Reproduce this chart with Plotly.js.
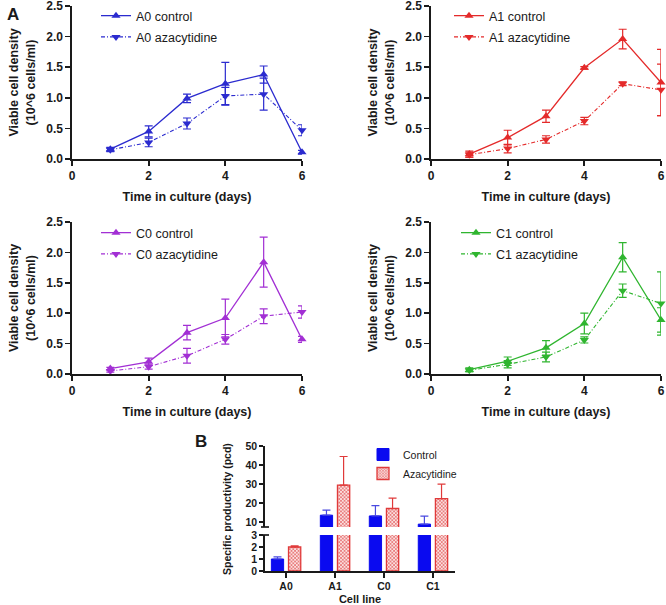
<!DOCTYPE html>
<html>
<head>
<meta charset="utf-8">
<script src="https://cdn.plot.ly/plotly-3.0.1.min.js"></script>
<style>html,body{margin:0;padding:0;background:#fff;}#chart{width:666px;height:605px;}</style>
</head>
<body>
<div id="chart"></div>
<script>
// ---- Data ----
const days = [1, 2, 3, 4, 5, 6];

const a0Control = [0.16, 0.45, 0.99, 1.23, 1.38, 0.11];
const a0ControlErr = [0.03, 0.09, 0.07, 0.35, 0.14, 0.03];
const a0Aza = [0.15, 0.27, 0.58, 1.03, 1.06, 0.47];
const a0AzaErr = [0.03, 0.07, 0.09, 0.14, 0.26, 0.09];

const a1Control = [0.08, 0.35, 0.70, 1.49, 1.96, 1.25];
const a1ControlErr = [0.05, 0.12, 0.10, 0.02, 0.16, 0.54];
const a1Aza = [0.07, 0.17, 0.32, 0.62, 1.23, 1.13];
const a1AzaErr = [0.04, 0.07, 0.06, 0.06, 0.03, 0.42];

const c0Control = [0.09, 0.20, 0.68, 0.92, 1.84, 0.57];
const c0ControlErr = [0.02, 0.06, 0.12, 0.31, 0.41, 0.05];
const c0Aza = [0.05, 0.12, 0.30, 0.57, 0.95, 1.02];
const c0AzaErr = [0.02, 0.04, 0.12, 0.08, 0.12, 0.10];

const c1Control = [0.07, 0.21, 0.43, 0.83, 1.92, 0.89];
const c1ControlErr = [0.03, 0.07, 0.12, 0.17, 0.24, 0.20];
const c1Aza = [0.06, 0.16, 0.28, 0.56, 1.37, 1.16];
const c1AzaErr = [0.02, 0.06, 0.08, 0.05, 0.11, 0.52];

const cellLines = ['A0', 'A1', 'C0', 'C1'];
const qpControl = [1.0, 13.7, 13.3, 9.0];
const qpControlErr = [0.17, 2.7, 5.4, 4.2];
const qpAza = [2.0, 29.5, 17.2, 22.4];
const qpAzaErr = [0.10, 15.0, 5.5, 7.6];
const noErr = [0, 0, 0, 0];

const panelNames = ['A0', 'A1', 'C0', 'C1'];
const panelControl = [a0Control, a1Control, c0Control, c1Control];
const panelControlErr = [a0ControlErr, a1ControlErr, c0ControlErr, c1ControlErr];
const panelAza = [a0Aza, a1Aza, c0Aza, c1Aza];
const panelAzaErr = [a0AzaErr, a1AzaErr, c0AzaErr, c1AzaErr];

// ---- Styling ----
const FONT = 'Liberation Sans, Arial, sans-serif';
const colors = ['#2b2bcf', '#e42a2a', '#a22fd4', '#2fb52f'];
const W = 666, H = 605;
const px = v => v / W;
const py = v => 1 - v / H;

// panel geometry in pixels: [xLeft, xRight, yTop, yBottom, legendLeft, legendTop]
const geo = [
  [72, 302, 6, 159, 96, 1],
  [431, 661, 6, 159, 449, 1],
  [72, 302, 222, 374, 96, 218],
  [431, 661, 222, 374, 456, 218]
];

const traces = [];
const layout = {
  width: W, height: H,
  margin: {l: 0, r: 0, t: 0, b: 0},
  paper_bgcolor: '#fff', plot_bgcolor: '#fff',
  font: {family: FONT, color: '#111'},
  showlegend: true,
  annotations: [],
  shapes: []
};

function axisBase() {
  return {
    showgrid: false, zeroline: false, showline: true,
    linecolor: '#1a1a1a', linewidth: 1.7,
    ticks: 'outside', ticklen: 5, tickwidth: 1.7, tickcolor: '#1a1a1a',
    tickfont: {family: FONT, size: 12, weight: 'bold', color: '#1a1a1a'},
    ticklabeloverflow: 'allow',
    fixedrange: true
  };
}

panelNames.forEach((name, i) => {
  const n = i + 1;
  const xa = 'x' + n, ya = 'y' + n;
  const legName = n === 1 ? 'legend' : 'legend' + n;
  const g = geo[i];
  traces.push({
    type: 'scatter', mode: 'lines+markers', name: name + ' control',
    x: days, y: panelControl[i], xaxis: xa, yaxis: ya, legend: legName,
    legendgroup: name + 'c',
    line: {color: colors[i], width: 1.3},
    marker: {symbol: 'triangle-up', size: 8, color: colors[i]},
    error_y: {type: 'data', array: panelControlErr[i], color: colors[i], thickness: 1.2, width: 4},
    cliponaxis: false
  });
  traces.push({
    type: 'scatter', mode: 'lines+markers', name: name + ' azacytidine',
    x: days, y: panelAza[i], xaxis: xa, yaxis: ya, legend: legName,
    legendgroup: name + 'a',
    line: {color: colors[i], width: 1.1, dash: '4px,2px,1px,2px'},
    marker: {symbol: 'triangle-down', size: 8, color: colors[i]},
    error_y: {type: 'data', array: panelAzaErr[i], color: colors[i], thickness: 1.2, width: 4},
    cliponaxis: false
  });
  layout['xaxis' + n] = Object.assign(axisBase(), {
    domain: [px(g[0]), px(g[1])], anchor: ya, range: [0, 6],
    tickvals: [0, 2, 4, 6],
    title: {text: 'Time in culture (days)', font: {family: FONT, size: 12.5, weight: 'bold', color: '#1a1a1a'}, standoff: 10}
  });
  layout['yaxis' + n] = Object.assign(axisBase(), {
    domain: [py(g[3]), py(g[2])], anchor: xa, range: [0, 2.5],
    tickvals: [0, 0.5, 1, 1.5, 2, 2.5], tickformat: '.1f',
    title: {text: 'Viable cell density<br>(10^6 cells/ml)', font: {family: FONT, size: 12.5, weight: 'bold', color: '#1a1a1a'}, standoff: 8}
  });
  layout[legName] = {
    x: px(g[4]), y: py(g[5]), xanchor: 'left', yanchor: 'top',
    bgcolor: 'rgba(0,0,0,0)', borderwidth: 0,
    font: {family: FONT, size: 12.5, color: '#1a1a1a'},
    traceorder: 'grouped', tracegroupgap: 2
  };
});

// ---- Panel B (broken y axis) ----
const ctrlColor = '#0a0af0';
const azaColor = '#e03a3a';
[['y5', false], ['y6', true]].forEach(([ya, show]) => {
  traces.push({
    type: 'bar', name: 'Control', x: cellLines, y: qpControl,
    xaxis: 'x5', yaxis: ya, legend: 'legend5', showlegend: show, legendgroup: 'bc',
    width: 0.25, offset: -0.3,
    marker: {color: ctrlColor, line: {color: ctrlColor, width: 1}},
    error_y: {type: 'data', symmetric: false, array: qpControlErr, arrayminus: noErr, color: '#4a4ae0', thickness: 1.2, width: 4}
  });
  traces.push({
    type: 'bar', name: 'Azacytidine', x: cellLines, y: qpAza,
    xaxis: 'x5', yaxis: ya, legend: 'legend5', showlegend: show, legendgroup: 'ba',
    width: 0.25, offset: 0.05,
    marker: {color: '#f7cccc', line: {color: azaColor, width: 1.3},
      pattern: {shape: 'x', fgcolor: '#e25a5a', bgcolor: '#fbe0e0', size: 2.5, solidity: 0.45}},
    error_y: {type: 'data', symmetric: false, array: qpAzaErr, arrayminus: noErr, color: azaColor, thickness: 1.2, width: 4}
  });
});

const smallTick = {family: FONT, size: 10.5, weight: 'bold', color: '#1a1a1a'};
layout.xaxis5 = Object.assign(axisBase(), {
  domain: [px(265), px(455)], anchor: 'y5', range: [-0.43, 3.45],
  tickfont: smallTick,
  title: {text: 'Cell line', font: {family: FONT, size: 11, weight: 'bold', color: '#1a1a1a'}, standoff: 6}
});
layout.yaxis5 = Object.assign(axisBase(), {
  domain: [py(571), py(535)], anchor: 'x5', range: [0, 3],
  tickvals: [0, 1, 2, 3], tickfont: smallTick, ticklen: 4
});
layout.yaxis6 = Object.assign(axisBase(), {
  domain: [py(527), py(446)], anchor: 'x5', range: [7.5, 50],
  tickvals: [10, 20, 30, 40, 50], tickfont: smallTick, ticklen: 4
});
layout.legend5 = {
  x: px(363), y: py(440), xanchor: 'left', yanchor: 'top',
  bgcolor: 'rgba(0,0,0,0)', borderwidth: 0,
  font: {family: FONT, size: 10.5, color: '#1a1a1a'},
  traceorder: 'grouped', tracegroupgap: 0
};

// axis-break crossbars
[527, 535].forEach(yy => {
  layout.shapes.push({type: 'line', xref: 'paper', yref: 'paper',
    x0: px(261), x1: px(269), y0: py(yy), y1: py(yy),
    line: {color: '#1a1a1a', width: 1.7}});
});

layout.annotations.push(
  {text: 'A', x: px(5), y: py(3), xref: 'paper', yref: 'paper', xanchor: 'left', yanchor: 'top',
   showarrow: false, font: {family: FONT, size: 17, weight: 'bold', color: '#1a1a1a'}},
  {text: 'B', x: px(193), y: py(430), xref: 'paper', yref: 'paper', xanchor: 'left', yanchor: 'top',
   showarrow: false, font: {family: FONT, size: 17, weight: 'bold', color: '#1a1a1a'}},
  {text: 'Specific productivity (pcd)', x: px(227), y: py(509), xref: 'paper', yref: 'paper',
   xanchor: 'center', yanchor: 'middle', textangle: -90,
   showarrow: false, font: {family: FONT, size: 10.5, weight: 'bold', color: '#1a1a1a'}}
);

Plotly.newPlot('chart', traces, layout, {displayModeBar: false, staticPlot: true});
</script>
</body>
</html>
